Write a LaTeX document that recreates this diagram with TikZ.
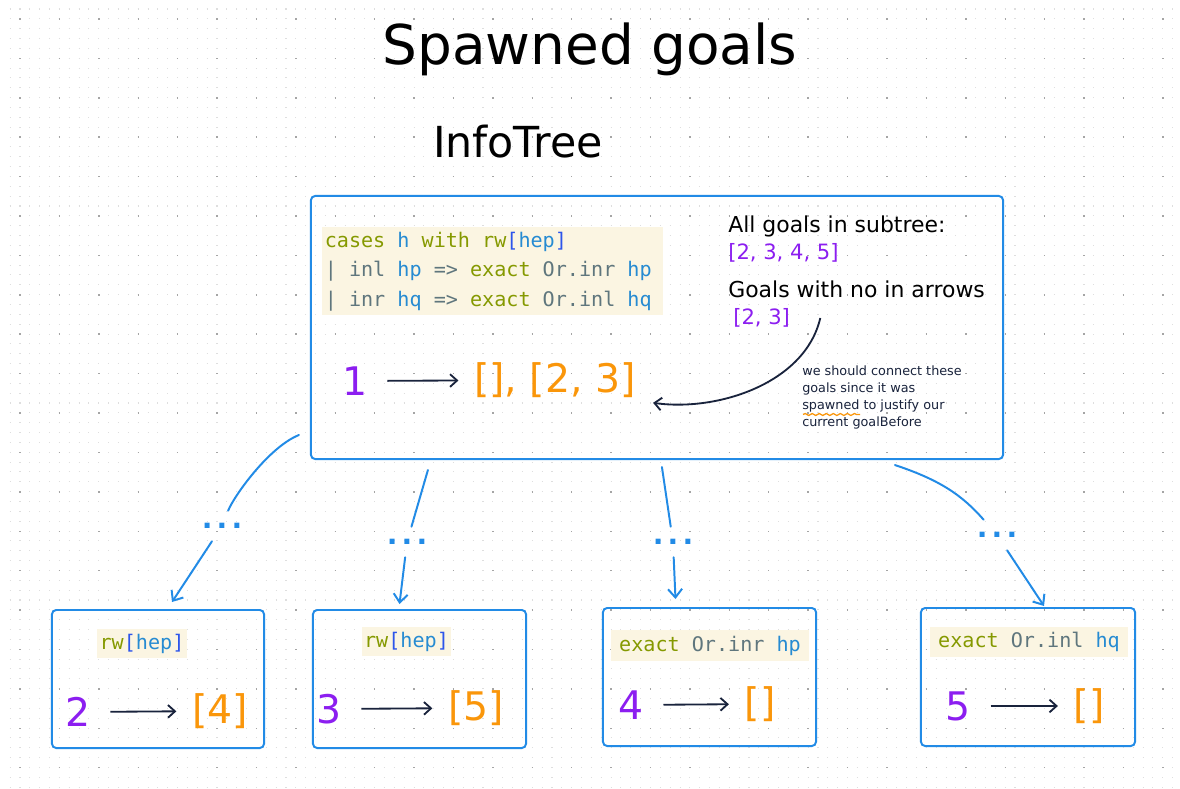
\documentclass[tikz,border=0pt]{standalone}
\usepackage{fontspec}
\setmainfont{DejaVu Sans}
\newfontfamily\codefont{DejaVu Sans Mono}
\usepackage{tikz}
\definecolor{linkblue}{RGB}{34,139,230}
\definecolor{goalviolet}{RGB}{140,30,240}
\definecolor{listorange}{RGB}{250,150,10}
\definecolor{inknavy}{RGB}{25,35,60}
\definecolor{codebg}{RGB}{251,245,226}
\definecolor{codegreen}{RGB}{133,153,0}
\definecolor{codeblue}{RGB}{38,139,210}
\definecolor{codegray}{RGB}{95,118,125}
\definecolor{codebracket}{RGB}{45,85,235}
\definecolor{dotlight}{RGB}{222,222,222}
\definecolor{dotdark}{RGB}{165,165,165}
\usetikzlibrary{arrows.meta, positioning, calc, decorations.pathmorphing}

\newcommand{\lkw}[1]{\textcolor{codegreen}{#1}}
\newcommand{\lhyp}[1]{\textcolor{codeblue}{#1}}
\newcommand{\lplain}[1]{\textcolor{codegray}{#1}}
\newcommand{\lbrk}[1]{\textcolor{codebracket}{#1}}

\begin{document}
\begin{tikzpicture}[
    x=0.025cm, y=-0.025cm,
    panel/.style={draw=linkblue, line width=1.4pt, rounded corners=3pt, inner sep=0pt},
    codebox/.style={fill=codebg, inner xsep=1.8pt, inner ysep=3.2pt,
                    font=\codefont\fontsize{14.3pt}{21pt}\selectfont},
    hand/.style={inner sep=0pt, font=\fontsize{#1}{#1}\selectfont},
    goal/.style={hand=28pt, text=goalviolet},
    result/.style={hand=28pt, text=listorange},
    mapsto/.style={draw=inknavy, line width=1.3pt, -{Straight Barb[length=5pt,width=9pt]},
                   shorten <=14pt, shorten >=11pt},
    ellipsis/.style={text=linkblue, font=\bfseries\fontsize{20pt}{20pt}\selectfont,
                     minimum width=0.9cm, minimum height=0.75cm, inner sep=0pt},
    spawnlink/.style={draw=linkblue, line width=1.4pt, line cap=round},
    spawnarrow/.style={spawnlink, -{Straight Barb[length=6pt,width=10pt]}}
]
    \fill[white] (0,0) rectangle (1180,789);
    \useasboundingbox (0,0) rectangle (1180,789);
    \foreach \r in {0,...,79}
        \draw[dotlight, line width=0.75pt, dash pattern=on 0.75pt off 6.256pt]
            (9.6,{9+9.85*\r}) -- (1180,{9+9.85*\r});
    \foreach \r in {0,...,19}
        \draw[dotdark, line width=1pt, dash pattern=on 1pt off 27.025pt]
            (19.3,{19+39.4*\r}) -- (1180,{19+39.4*\r});

    \node[hand=39pt] (title) at (590,49) {Spawned goals};
    \node[hand=30.4pt] (infotree) at (518,142) {InfoTree};

    \node[panel, minimum width=17.3cm, minimum height=6.575cm] (top) at (657,327.5) {};
    \node[codebox, anchor=north west, text width=8.4cm, align=left] (code) at (322,227) {%
        \spaceskip=0.602em\relax
        \lkw{cases} \lhyp{h} \lkw{with} \lkw{rw}\lbrk{[}\lhyp{hep}\lbrk{]}\\
        \lplain{| inl} \lhyp{hp} \lplain{=>} \lkw{exact} \lplain{Or.inr} \lhyp{hp}\\
        \lplain{| inr} \lhyp{hq} \lplain{=>} \lkw{exact} \lplain{Or.inl} \lhyp{hq}%
    };
    \node[goal] (n1) at (355,381) {1};
    \node[result] (l1) at (555,380) {[], [2, 3]};
    \draw[mapsto] (n1) -- (l1);

    \node[hand=15.6pt, anchor=base west] (allgoals) at (728,232) {All goals in subtree:};
    \node[hand=15pt, text=goalviolet, anchor=base west] (alllist) at (728,259) {[2, 3, 4, 5]};
    \node[hand=15.6pt, anchor=base west] (noinlabel) at (728,297) {Goals with no in arrows};
    \node[hand=15pt, text=goalviolet, anchor=base west] (noinlist) at (733,324) {[2, 3]};
    \coordinate (bendstart) at ([shift={(30,-6)}]noinlist.base east);
    \draw[draw=inknavy, line width=1.3pt, -{Straight Barb[length=5pt,width=9pt]}]
        (bendstart) .. controls +(-15,65) and +(65,9) .. ([shift={(17,5)}]l1.south east);

    \node[anchor=north west, align=left, inner sep=0pt, text=inknavy,
          font=\fontsize{9.1pt}{12.3pt}\selectfont] (anno) at (802,365)
        {we should connect these\\goals since it was\\spawned to justify our\\current goalBefore};
    \draw[listorange, line width=0.9pt, decorate, decoration={snake, amplitude=0.7pt, segment length=5pt}]
        ([shift={(1,49.5)}]anno.north west) -- ++(57,0);

    \node[panel, minimum width=5.3cm, minimum height=3.45cm] (b2) at (158,679) {};
    \node[codebox] (c2) at (142,643.5) {\lkw{rw}\lbrk{[}\lhyp{hep}\lbrk{]}};
    \node[goal] (n2) at (78,712) {2};
    \node[result] (l2) at (220,711) {[4]};
    \draw[mapsto] (n2) -- (l2);

    \node[panel, minimum width=5.325cm, minimum height=3.45cm] (b3) at (419.5,679) {};
    \node[codebox] (c3) at (406.5,641.5) {\lkw{rw}\lbrk{[}\lhyp{hep}\lbrk{]}};
    \node[goal] (n3) at (329,709) {3};
    \node[result] (l3) at (476,708) {[5]};
    \draw[mapsto] (n3) -- (l3);

    \node[panel, minimum width=5.325cm, minimum height=3.45cm] (b4) at (709.5,677) {};
    \node[codebox, inner xsep=6pt, inner ysep=4pt] (c4) at (710,645.5) {\lkw{exact} \lplain{Or.inr} \lhyp{hp}};
    \node[goal] (n4) at (631,705) {4};
    \node[result] (l4) at (760,704) {[]};
    \draw[mapsto] (n4) -- (l4);

    \node[panel, minimum width=5.35cm, minimum height=3.45cm] (b5) at (1028,677) {};
    \node[codebox, inner xsep=6pt, inner ysep=4pt] (c5) at (1029,642) {\lkw{exact} \lplain{Or.inl} \lhyp{hq}};
    \node[goal] (n5) at (958,706) {5};
    \node[result] (l5) at (1089,706) {[]};
    \draw[mapsto] (n5) -- (l5);

    \node[ellipsis] (d1) at (222,526) {.\kern3pt.\kern3pt.};
    \node[ellipsis] (d2) at (407,542) {.\kern3pt.\kern3pt.};
    \node[ellipsis] (d3) at (673,542) {.\kern3pt.\kern3pt.};
    \node[ellipsis] (d4) at (997,535) {.\kern3pt.\kern3pt.};
    \coordinate (s1) at ([shift={(-11,-25)}]top.south west);
    \coordinate (s2) at ([shift={(118,10)}]top.south west);
    \coordinate (s3) at ([shift={(352,7)}]top.south west);
    \coordinate (s4) at ([shift={(585,5)}]top.south west);
    \draw[spawnlink] (s1) .. controls +(-30,12) and +(12,-30) .. (d1);
    \draw[spawnarrow] (d1) -- ([shift={(14,-7)}]b2.north);
    \draw[spawnlink] (s2) -- (d2);
    \draw[spawnarrow] (d2) -- ([shift={(-20,-5)}]b3.north);
    \draw[spawnlink] (s3) -- (d3);
    \draw[spawnarrow] (d3) -- ([shift={(-34,-8)}]b4.north);
    \draw[spawnlink] (s4) .. controls +(45,15) and +(-35,-40) .. (d4);
    \draw[spawnarrow] (d4) -- ([shift={(16,-1)}]b5.north);
\end{tikzpicture}
\end{document}
